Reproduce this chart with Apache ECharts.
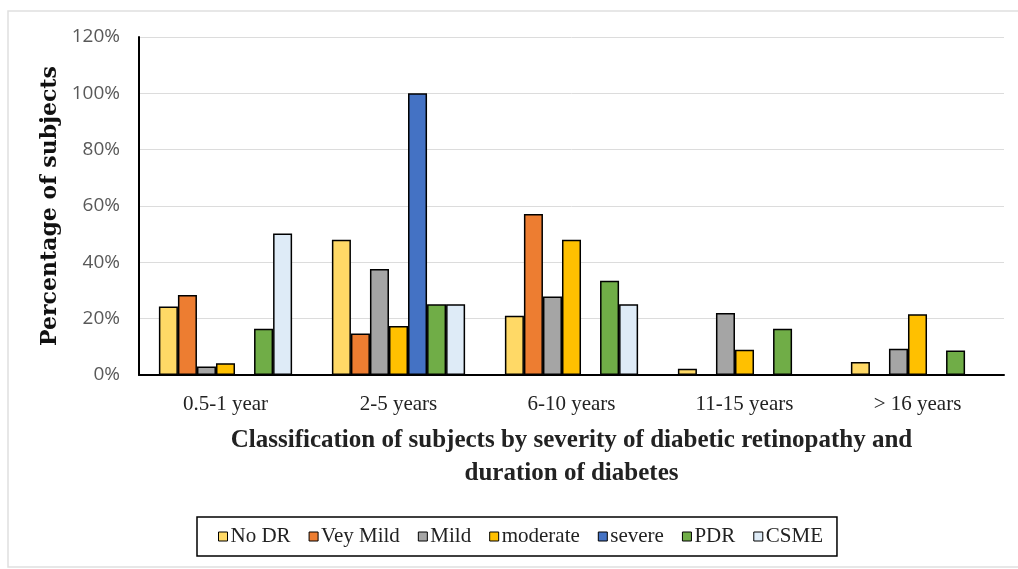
<!DOCTYPE html>
<html>
<head>
<meta charset="utf-8">
<script src="https://cdn.jsdelivr.net/npm/echarts@6/dist/echarts.min.js"></script>
<style>
  html, body { margin: 0; padding: 0; background: #fff; }
  #chart { width: 1018px; height: 569px; }
</style>
</head>
<body>
<div id="chart"></div>
<script>
// Duration-of-diabetes groups on the x axis
const categories = ['0.5-1 year', '2-5 years', '6-10 years', '11-15 years', '> 16 years'];

// Share of subjects (%) per retinopathy grade in each duration group
const noDR     = [24.3, 48.0, 21.0, 2.2, 4.6];
const veyMild  = [28.4, 14.7, 57.2, 0, 0];
const mild     = [3.0, 37.6, 27.9, 22.0, 9.3];
const moderate = [4.2, 17.4, 48.0, 9.0, 21.6];
const severe   = [0, 100, 0, 0, 0];
const pdr      = [16.4, 25.1, 33.5, 16.4, 8.7];
const csme     = [50.2, 25.1, 25.1, 0, 0];

const seriesNames = ['No DR', 'Vey Mild', 'Mild', 'moderate', 'severe', 'PDR', 'CSME'];
const seriesData  = [noDR, veyMild, mild, moderate, severe, pdr, csme];
const seriesColors = ['#FFD966', '#ED7D31', '#A5A5A5', '#FFC000', '#4472C4', '#70AD47', '#DEEBF7'];

const yTicks = [0, 20, 40, 60, 80, 100, 120];

const chart = echarts.init(document.getElementById('chart'), null, { renderer: 'canvas' });

const serif = '"Liberation Serif", "DejaVu Serif", serif';

chart.setOption({
  animation: false,
  backgroundColor: '#ffffff',
  grid: { left: 139, right: 14, top: 37, bottom: 194 },
  legend: {
    data: seriesNames,
    left: 197,
    top: 517,
    padding: [9, 14, 9, 21],
    itemGap: 18,
    itemWidth: 9,
    itemHeight: 9,
    borderColor: '#000',
    borderWidth: 1.5,
    borderRadius: 0,
    icon: 'rect',
    itemStyle: { borderColor: '#000', borderWidth: 1 },
    textStyle: { fontFamily: serif, fontSize: 21, color: '#222', padding: [0, 0, 0, -2] }
  },
  xAxis: {
    type: 'category',
    data: categories,
    axisLine: { show: true, lineStyle: { color: '#000', width: 2 } },
    axisTick: { show: false },
    axisLabel: { fontFamily: serif, fontSize: 21, color: '#222', margin: 19 },
    name: 'Classification of subjects by severity of diabetic retinopathy and\nduration of diabetes',
    nameLocation: 'middle',
    nameGap: 49,
    nameTextStyle: { fontFamily: serif, fontSize: 25, fontWeight: 'bold', color: '#222', lineHeight: 33 }
  },
  yAxis: {
    type: 'value',
    min: yTicks[0],
    max: yTicks[yTicks.length - 1],
    interval: yTicks[1] - yTicks[0],
    axisLine: { show: true, lineStyle: { color: '#000', width: 2 } },
    axisTick: { show: false },
    splitLine: { lineStyle: { color: '#dcdcdc', width: 1 } },
    axisLabel: {
      formatter: v => v + '%',
      fontFamily: '"Open Sans", "Noto Sans", sans-serif',
      fontSize: 19,
      color: '#595959',
      margin: 19
    },
    name: 'Percentage of subjects',
    nameLocation: 'middle',
    nameGap: 72,
    nameTextStyle: { fontFamily: '"DejaVu Serif", serif', fontSize: 22, fontWeight: 'bold', color: '#111' }
  },
  series: seriesNames.map((name, i) => ({
    name,
    type: 'bar',
    data: seriesData[i],
    barGap: '0%',
    barCategoryGap: '23%',
    itemStyle: { color: seriesColors[i], borderColor: '#000', borderWidth: 1.5 }
  })),
  graphic: [
    {
      type: 'polyline',
      shape: { points: [[1018, 11], [8, 11], [8, 567], [1018, 567]] },
      style: { stroke: '#e0e0e0', lineWidth: 1.5, fill: null },
      silent: true
    }
  ]
});
</script>
</body>
</html>
